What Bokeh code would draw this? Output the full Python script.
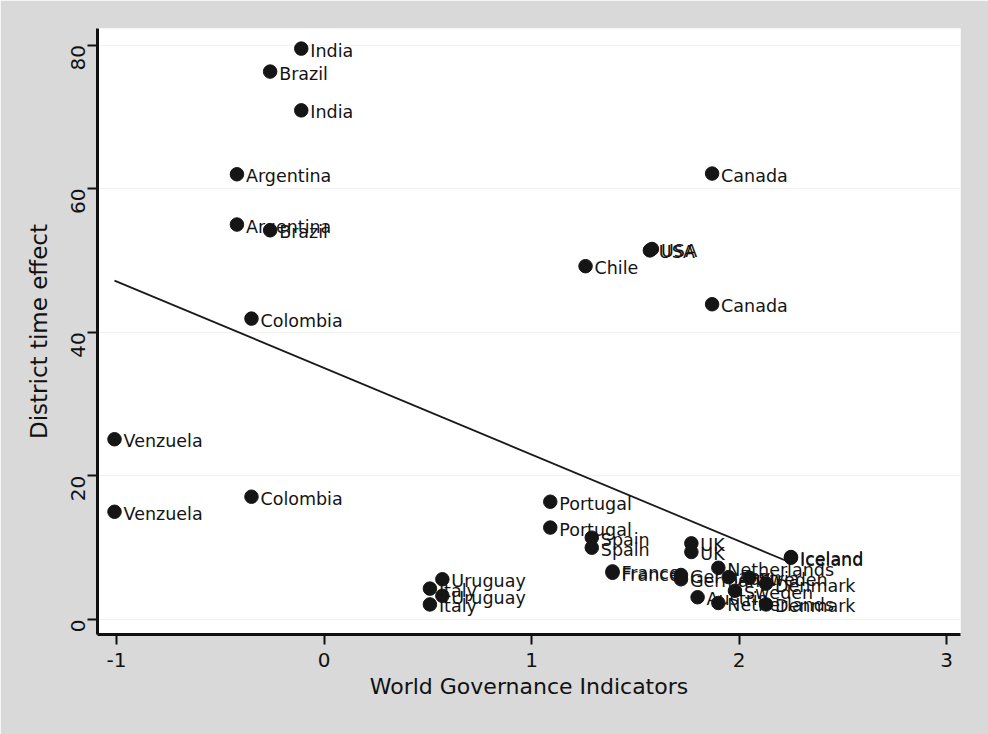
import math
from bokeh.plotting import figure
from bokeh.models import ColumnDataSource, Range1d, FixedTicker, PrintfTickFormatter
from bokeh.core.properties import value
from bokeh.embed import file_html
from bokeh.resources import INLINE

# ---- data ----
countries = ["India", "Brazil", "India", "Argentina", "Canada", "Argentina", "Brazil",
             "USA", "USA", "Chile", "Canada", "Colombia", "Venzuela", "Colombia", "Venzuela",
             "Portugal", "Portugal", "Spain", "Spain", "UK", "UK", "Iceland", "Iceland",
             "France", "France", "Germany", "Germany", "Netherlands", "Netherlands",
             "Denmark", "Denmark", "Sweden", "Sweden", "Austria", "Austria",
             "Uruguay", "Uruguay", "Italy", "Italy"]
wgi = [-0.11, -0.26, -0.11, -0.42, 1.87, -0.42, -0.26,
       1.57, 1.58, 1.26, 1.87, -0.35, -1.01, -0.35, -1.01,
       1.09, 1.09, 1.29, 1.29, 1.77, 1.77, 2.25, 2.25,
       1.39, 1.39, 1.72, 1.72, 1.90, 1.90,
       2.13, 2.13, 1.98, 2.05, 1.80, 1.95,
       0.57, 0.57, 0.51, 0.51]
time_effect = [79.5, 76.3, 70.9, 62.0, 62.1, 55.0, 54.2,
               51.4, 51.6, 49.2, 43.9, 41.9, 25.1, 17.1, 15.0,
               16.4, 12.8, 11.4, 10.0, 10.6, 9.4, 8.7, 8.6,
               6.7, 6.5, 6.2, 5.6, 7.2, 2.3,
               5.0, 2.1, 4.0, 5.8, 3.1, 5.9,
               5.6, 3.3, 4.3, 2.1]

fit_x = [-1.01, 2.25]
fit_y = [47.2, 7.9]

x_ticks = [-1, 0, 1, 2, 3]
y_ticks = [0, 20, 40, 60, 80]

src = ColumnDataSource(dict(x=wgi, y=time_effect, name=countries))

p = figure(width=988, height=734, output_backend="svg", toolbar_location=None,
           x_range=Range1d(-1.092, 3.067), y_range=Range1d(-2.09, 82.3),
           min_border_left=97, min_border_right=28, min_border_top=28, min_border_bottom=100)

p.background_fill_color = "white"
p.border_fill_color = "#d9d9d9"
p.outline_line_color = None

p.xgrid.grid_line_color = None
p.ygrid.grid_line_color = "#f1f1f1"
p.ygrid.grid_line_width = 1

p.line(fit_x, fit_y, line_color="#1a1a1a", line_width=1.8)
p.scatter("x", "y", source=src, size=13.5, fill_color="#151515", line_color="#151515")
p.text("x", "y", text="name", source=src, x_offset=9, y_offset=2,
       text_font=value("DejaVu Sans"), text_font_size="17.5px",
       text_baseline="middle", text_align="left", text_color="#141414")

for ax in (p.xaxis[0], p.yaxis[0]):
    ax.axis_line_width = 3
    ax.axis_line_color = "#111111"
    ax.major_tick_line_width = 2
    ax.major_tick_line_color = "#111111"
    ax.major_tick_out = 10
    ax.major_tick_in = 0
    ax.minor_tick_line_color = None
    ax.major_label_text_font = "DejaVu Sans"
    ax.major_label_text_font_size = "20px"
    ax.major_label_text_color = "#111111"
    ax.axis_label_text_font = "DejaVu Sans"
    ax.axis_label_text_font_style = "normal"
    ax.axis_label_text_color = "#111111"
    ax.formatter = PrintfTickFormatter(format="%d")

p.xaxis.ticker = FixedTicker(ticks=x_ticks)
p.yaxis.ticker = FixedTicker(ticks=y_ticks)
p.xaxis.axis_label = "World Governance Indicators"
p.yaxis.axis_label = "District time effect"
p.xaxis.axis_label_text_font_size = "22px"
p.yaxis.axis_label_text_font_size = "23px"
p.xaxis.major_label_standoff = 8
p.xaxis.axis_label_standoff = 4
p.yaxis.major_label_standoff = 9
p.yaxis.axis_label_standoff = 10
p.yaxis.major_label_orientation = math.pi / 2

open("out.html", "w").write(file_html(p, INLINE))
